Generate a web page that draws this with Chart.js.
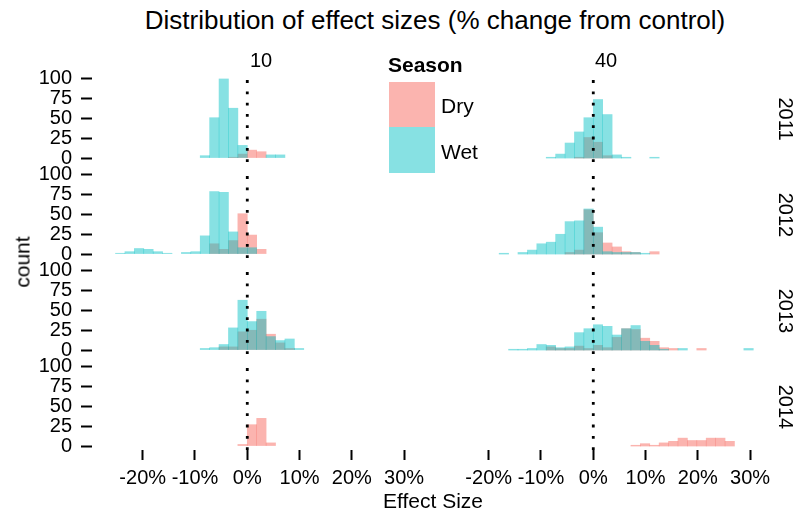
<!DOCTYPE html>
<html><head><meta charset="utf-8">
<script src="https://cdn.jsdelivr.net/npm/chart.js@4.4.0/dist/chart.umd.min.js"></script>
<style>
html,body{margin:0;padding:0;background:#fff;}
#wrap{position:relative;width:804px;height:512px;overflow:hidden;font-family:"Liberation Sans",Arial,Helvetica,sans-serif;color:#000;}
canvas{position:absolute;}
.t{position:absolute;white-space:nowrap;line-height:1;transform:translate(-50%,-50%);}
.l{position:absolute;white-space:nowrap;line-height:1;transform:translate(0,-50%);}
.key{position:absolute;}
</style></head><body><div id="wrap"></div>
<script>
// ---------- data ----------
const years = ["2011", "2012", "2013", "2014"];
const groups = ["10", "40"];
const seasons = ["Dry", "Wet"];
const xTicks = [-20, -10, 0, 10, 20, 30];
const yTicks = [0, 25, 50, 75, 100];
// histogram bins: [bin centre (%), count]
const dry_10_2011 = [[-2.7,1],[-0.9,5],[0.9,10],[2.7,8]];
const wet_10_2011 = [[-8.1,3],[-6.3,51],[-4.5,100],[-2.7,63],[-0.9,16],[4.5,4],[6.3,4]];
const dry_10_2012 = [[-6.3,13],[-4.5,6],[-2.7,17],[-0.9,51],[0.9,24],[2.7,6]];
const wet_10_2012 = [[-24.3,1],[-22.5,3],[-20.7,7],[-18.9,6],[-17.1,3],[-15.3,1],[-11.7,2],[-9.9,3],[-8.1,23],[-6.3,79],[-4.5,78],[-2.7,28],[-0.9,8],[0.9,8]];
const dry_10_2013 = [[-4.5,4],[-2.7,4],[-0.9,23],[0.9,25],[2.7,39],[4.5,20],[6.3,9],[8.1,2]];
const wet_10_2013 = [[-8.1,2],[-6.3,3],[-4.5,7],[-2.7,28],[-0.9,63],[0.9,36],[2.7,49],[4.5,17],[6.3,12],[8.1,14],[9.9,2]];
const dry_10_2014 = [[-0.9,2],[0.9,27],[2.7,35],[4.5,4]];
const wet_10_2014 = [];
const dry_40_2011 = [[-2.7,1],[-0.9,26],[0.9,20],[2.7,3]];
const wet_40_2011 = [[-8.1,1],[-6.3,5],[-4.5,19],[-2.7,33],[-0.9,51],[0.9,74],[2.7,55],[4.5,4],[6.3,1],[11.7,1]];
const dry_40_2012 = [[-4.5,2],[-2.7,5],[-0.9,56],[0.9,27],[2.7,14],[4.5,9],[6.3,3],[8.1,2],[11.7,3]];
const wet_40_2012 = [[-17.1,1],[-13.5,2],[-11.7,5],[-9.9,13],[-8.1,15],[-6.3,25],[-4.5,41],[-2.7,42],[-0.9,57],[0.9,34],[2.7,3],[4.5,2],[6.3,2],[8.1,2],[9.9,1]];
const dry_40_2013 = [[-8.1,4],[-6.3,2],[-4.5,2],[-2.7,5],[-0.9,2],[0.9,6],[2.7,3],[4.5,16],[6.3,27],[8.1,26],[9.9,15],[11.7,11],[13.5,3],[15.3,2],[20.7,2]];
const wet_40_2013 = [[-15.3,1],[-13.5,1],[-11.7,2],[-9.9,7],[-8.1,6],[-6.3,3],[-4.5,4],[-2.7,22],[-0.9,27],[0.9,32],[2.7,30],[4.5,19],[6.3,27],[8.1,31],[9.9,11],[11.7,6],[13.5,1],[17.1,2],[29.7,2]];
const dry_40_2014 = [[8.1,1],[9.9,3],[11.7,1],[13.5,4],[15.3,6],[17.1,10],[18.9,7],[20.7,7],[22.5,10],[24.3,10],[26.1,6]];
const wet_40_2014 = [];

const panelData = {
  "10": { "2011": [dry_10_2011, wet_10_2011], "2012": [dry_10_2012, wet_10_2012], "2013": [dry_10_2013, wet_10_2013], "2014": [dry_10_2014, wet_10_2014] },
  "40": { "2011": [dry_40_2011, wet_40_2011], "2012": [dry_40_2012, wet_40_2012], "2013": [dry_40_2013, wet_40_2013], "2014": [dry_40_2014, wet_40_2014] }
};

// ---------- layout ----------
const DRY = 'rgba(248,118,109,0.55)';
const WET = 'rgba(0,191,196,0.47)';
const XMIN = -29.7, XMAX = 33.8, YMIN = -5, YMAX = 105;
const PL = [92, 438];          // panel left edges
const PT = [75, 171, 267, 363]; // panel top edges
const W = 332, H = 87, M = 26, XH = 50;
const FONT = '"Liberation Sans", Arial, Helvetica, sans-serif';
Chart.defaults.font.family = FONT;
Chart.defaults.color = '#000';

const wrap = document.getElementById('wrap');
function addText(txt, x, y, size, cls, extra) {
  const d = document.createElement('div');
  d.className = cls || 't';
  d.textContent = txt;
  d.style.left = x + 'px'; d.style.top = y + 'px'; d.style.fontSize = size + 'px';
  if (extra) Object.assign(d.style, extra);
  wrap.appendChild(d);
  return d;
}

groups.forEach((g, col) => {
  years.forEach((yr, row) => {
    const px = PL[col], py = PT[row];
    const isLeft = col === 0, isBottom = row === 3;
    const cl = isLeft ? 0 : px - M;
    const ct = py - M;
    const cw = px + W + M - cl;
    const ch = isBottom ? H + M + XH : H + 2 * M;
    const cv = document.createElement('canvas');
    cv.width = cw; cv.height = ch;
    cv.style.left = cl + 'px'; cv.style.top = ct + 'px';
    cv.style.width = cw + 'px'; cv.style.height = ch + 'px';
    wrap.appendChild(cv);
    const [dry, wet] = panelData[g][yr];
    new Chart(cv, {
      type: 'bar',
      data: {
        datasets: [
          { type: 'line', data: [{x:0,y:YMIN},{x:0,y:YMAX}], borderColor: '#000', borderWidth: 2.8,
            borderDash: [2.8, 8.5], borderCapStyle: 'butt', pointRadius: 0, order: 0, clip: false },
          { type: 'bar', label: 'Wet', data: wet.map(([x, c]) => ({x, y: c})), backgroundColor: WET,
            borderWidth: 0, grouped: false, barPercentage: 1, categoryPercentage: 1, order: 1 },
          { type: 'bar', label: 'Dry', data: dry.map(([x, c]) => ({x, y: c})), backgroundColor: DRY,
            borderWidth: 0, grouped: false, barPercentage: 1, categoryPercentage: 1, order: 2 }
        ]
      },
      options: {
        responsive: false, animation: false, devicePixelRatio: 1,
        layout: { padding: { left: isLeft ? 0 : M, right: M, top: M, bottom: isBottom ? 0 : M } },
        plugins: { legend: { display: false }, tooltip: { enabled: false } },
        scales: {
          x: {
            type: 'linear', min: XMIN, max: XMAX, offset: false, display: isBottom,
            afterBuildTicks: s => { s.ticks = xTicks.map(v => ({ value: v })); },
            afterFit: s => { if (isBottom) s.height = XH; },
            ticks: { callback: v => v + '%', font: { size: 20 }, color: '#000', padding: 6, autoSkip: false, maxRotation: 0 },
            grid: { offset: false, drawOnChartArea: false, drawTicks: true, tickLength: 10, tickWidth: 2, tickColor: '#000' },
            border: { display: false }
          },
          y: {
            type: 'linear', min: YMIN, max: YMAX, display: isLeft,
            afterBuildTicks: s => { s.ticks = yTicks.map(v => ({ value: v })); },
            afterFit: s => { if (isLeft) s.width = px; },
            ticks: { font: { size: 20 }, color: '#000', padding: 9, autoSkip: false },
            grid: { drawOnChartArea: false, drawTicks: true, tickLength: 11, tickWidth: 2, tickColor: '#000' },
            border: { display: false }
          }
        }
      }
    });
  });
});

// ---------- text ----------
addText('Distribution of effect sizes (% change from control)', 435, 20, 26);
addText(groups[0], 261, 60, 20);
addText(groups[1], 606, 60, 20);
years.forEach((yr, row) => addText(yr, 786, PT[row] + H / 2, 20, 't', { transform: 'translate(-50%,-50%) rotate(90deg)' }));
addText('count', 22, 262, 21, 't', { transform: 'translate(-50%,-50%) rotate(-90deg)' });
addText('Effect Size', 433, 500, 21);
// legend
addText('Season', 388, 64, 21, 'l', { fontWeight: 'bold' });
const k1 = document.createElement('div'); k1.className = 'key';
Object.assign(k1.style, { left: '389px', top: '82px', width: '46px', height: '45px', background: DRY });
wrap.appendChild(k1);
const k2 = document.createElement('div'); k2.className = 'key';
Object.assign(k2.style, { left: '389px', top: '127px', width: '46px', height: '46px', background: WET });
wrap.appendChild(k2);
addText(seasons[0], 441, 105, 21, 'l');
addText(seasons[1], 441, 151, 21, 'l');
</script></body></html>
